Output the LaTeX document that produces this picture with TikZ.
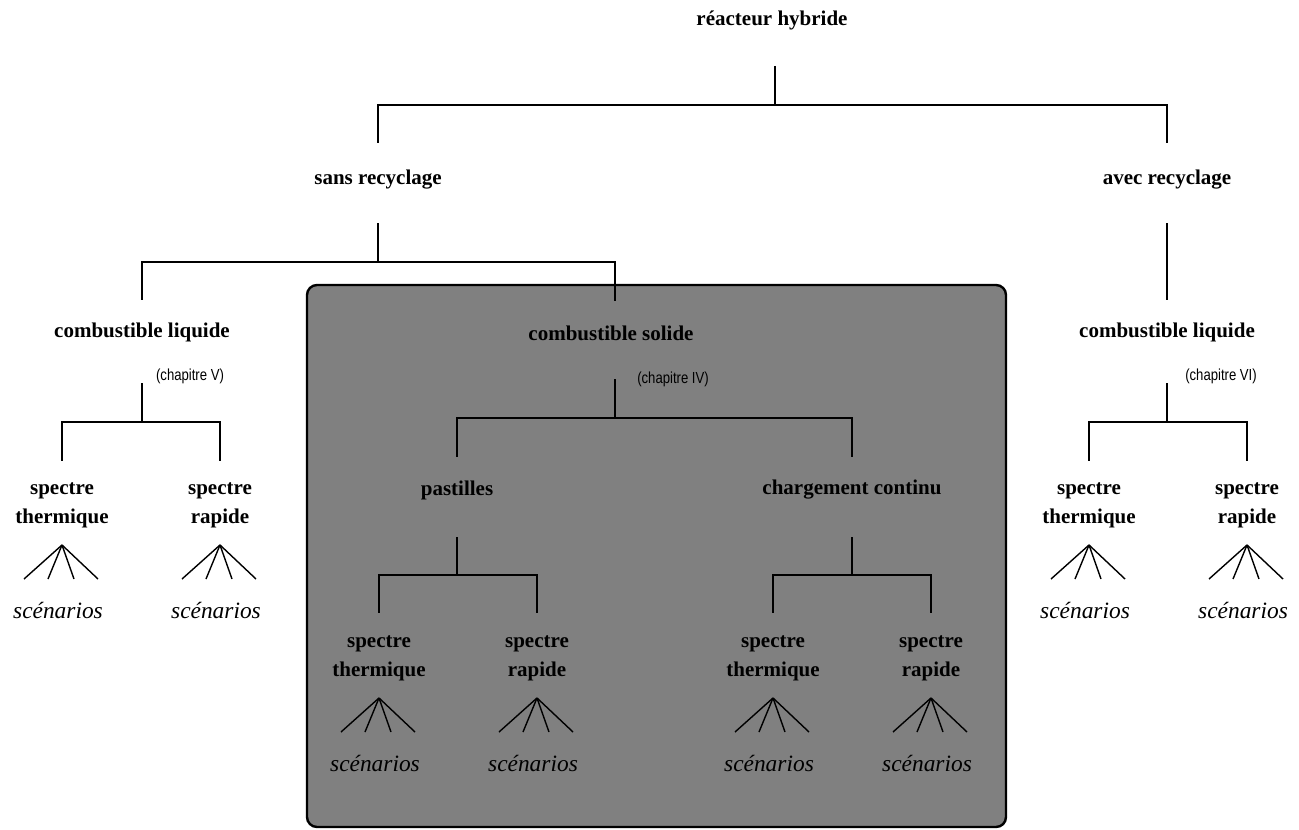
\documentclass[tikz,border=0pt]{standalone}
\usepackage{fontspec}
\setmainfont{Liberation Serif}
\newfontfamily\chapfont[FakeStretch=0.82]{Liberation Sans}
\begin{document}
\begin{tikzpicture}[x=0.5pt,y=-0.5pt,
  lbl/.style={font=\fontsize{10.5}{14.5}\selectfont\bfseries,align=center,inner sep=0pt},
  chap/.style={font=\chapfont\fontsize{8}{9}\selectfont,inner sep=0pt},
  scen/.style={font=\fontsize{11.7}{13}\selectfont\itshape,inner sep=0pt},
  tree/.style={line width=0.7pt}]
  \useasboundingbox (0,0) rectangle (1299,829);
  \fill[white] (0,0) rectangle (1299,829);
  % solid fuel branch, shaded
  \draw[line width=1.2pt,fill=gray,rounded corners=5pt] (307,285) rectangle (1006,827);

  \node[lbl] (root) at (772,20) {réacteur hybride};
  \node[lbl] (sans) at (378,180) {sans recyclage};
  \node[lbl] (avec) at (1167,180) {avec recyclage};
  \node[lbl] (liqA) at (142,332) {combustible liquide};
  \node[lbl] (sol) at (611,333) {combustible solide};
  \node[lbl] (liqB) at (1167,332) {combustible liquide};
  \node[chap] (chapA) at (190,376) {(chapitre V)};
  \node[chap] (chapS) at (673,379) {(chapitre IV)};
  \node[chap] (chapB) at (1221,376) {(chapitre VI)};
  \node[lbl] (past) at (457,490) {pastilles};
  \node[lbl] (charg) at (852,490) {chargement continu};
  \foreach \n/\x/\y/\t in {thA/62/505/thermique,raA/220/505/rapide,
                           thB/1089/505/thermique,raB/1247/505/rapide,
                           thP/379/658/thermique,raP/537/658/rapide,
                           thC/773/658/thermique,raC/931/658/rapide}
    \node[lbl] (\n) at (\x,\y) {spectre\\\t};

  % forks
  \draw[tree] ([xshift=1.5pt,yshift=-23pt]root.center) -- ++(0,39) coordinate (rj)
    -| ([yshift=18.5pt]sans.center) (rj) -| ([yshift=18.5pt]avec.center);
  \draw[tree] ([yshift=-21.5pt]sans.center) -- ++(0,39) coordinate (sj)
    -| ([yshift=16pt]liqA.center) (sj) -| ([xshift=2pt,yshift=16pt]sol.center);
  \draw[tree] ([yshift=-21.5pt]avec.center) -- ([yshift=16pt]liqB.center);
  \foreach \p/\a/\b in {liqA/thA/raA,liqB/thB/raB}
    \draw[tree] ([yshift=-25.5pt]\p.center) -- ++(0,39) coordinate (\p-j)
      -| ([yshift=22pt]\a.center) (\p-j) -| ([yshift=22pt]\b.center);
  \draw[tree] ([xshift=2pt,yshift=-23pt]sol.center) -- ++(0,39) coordinate (solj)
    -| ([yshift=16.5pt]past.center) (solj) -| ([yshift=16.5pt]charg.center);
  \foreach \p/\a/\b in {past/thP/raP,charg/thC/raC}
    \draw[tree] ([yshift=-23.5pt]\p.center) -- ++(0,38) coordinate (\p-j)
      -| ([yshift=22.5pt]\a.center) (\p-j) -| ([yshift=22.5pt]\b.center);

  % scenario fans
  \foreach \n in {thA,raA,thB,raB,thP,raP,thC,raC} {
    \coordinate (\n-apex) at ([yshift=-20pt]\n.center);
    \foreach \dx in {-38,-14,12,36}
      \draw[tree] (\n-apex) -- ++(\dx,34);
    \node[scen] (\n-sc) at ([shift={(-4,65)}]\n-apex) {scénarios};
  }
\end{tikzpicture}
\end{document}
